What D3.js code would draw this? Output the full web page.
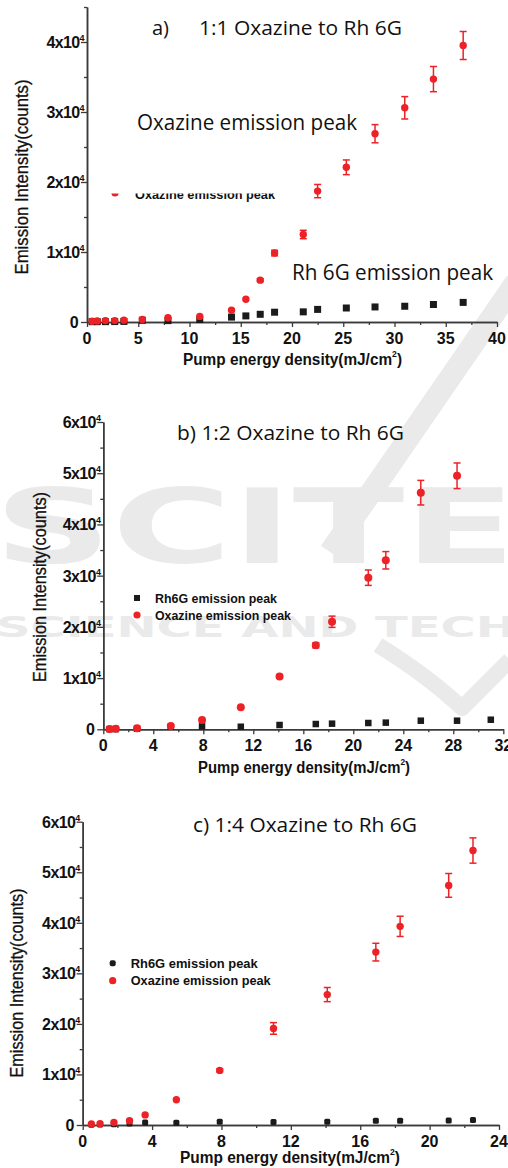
<!DOCTYPE html>
<html><head><meta charset="utf-8">
<script src="https://cdn.jsdelivr.net/npm/d3@7"></script>
<style>body{margin:0;background:#fff}svg{display:block}</style>
</head><body>
<svg id="c" width="508" height="1168"></svg>
<script>
// ---------- data ----------
const xA   = [0.5,1,1.8,2.7,3.6,5.4,7.9,11,14.1,15.5,16.9,18.3,21.1,22.5,25.3,28.1,31,33.8,36.7];
const oxA  = [100,150,200,200,250,350,600,800,1670,3250,5980,9850,12500,18700,22100,26900,30600,34700,39500];
const oxErrA = [0,0,0,0,0,0,0,0,0,0,200,400,600,950,1050,1300,1600,1800,2000];
const rhA  = [50,50,50,60,80,250,200,350,700,870,1100,1400,1450,1800,2000,2150,2250,2500,2800];

const xB   = [0.5,1,2.7,5.4,7.9,11,14.1,17,18.3,21.2,22.6,25.4,28.3,31];
const oxB  = [60,130,200,650,1800,4300,10300,16400,21000,29600,33000,46200,49500,null];
const oxErrB = [0,0,0,0,0,0,300,500,1100,1500,1700,2400,2500,0];
const rhB  = [30,50,100,500,580,500,840,1030,1100,1230,1300,1680,1680,1870];

const xC   = [0.5,1,1.8,2.7,3.6,5.4,7.9,11,14.1,16.9,18.3,21.1,22.5];
const oxC  = [200,250,500,850,2000,5000,10800,19100,25800,34200,39300,47400,54300];
const oxErrC = [0,0,0,0,0,0,300,1150,1400,1750,2000,2350,2500];
const rhC  = [50,80,150,300,500,450,650,600,650,850,850,900,1000];

const yTicksA = [0,1e4,2e4,3e4,4e4];
const yTicksBC = [0,1e4,2e4,3e4,4e4,5e4,6e4];
const xTicksA = [0,5,10,15,20,25,30,35,40];
const xTicksB = [0,4,8,12,16,20,24,28,32];
const xTicksC = [0,4,8,12,16,20,24];

const titleA = ["a)", "1:1 Oxazine to Rh 6G"];
const titleB = "b) 1:2 Oxazine to Rh 6G";
const titleC = "c) 1:4 Oxazine to Rh 6G";
const xTitle = "Pump energy density(mJ/cm";
const yTitle = "Emission Intensity(counts)";
const legRh = "Rh6G emission peak";
const legOx = "Oxazine emission peak";
const annOx = "Oxazine emission peak";
const annRh = "Rh 6G emission peak";

const RED = "#ec2227", BLK = "#1b1b1b", AX = "#3a3a3a", WM = "#eaeaea";

const svg = d3.select("#c");

// ---------- watermark ----------
const wm = svg.append("g");
wm.append("text").attr("x",-6).attr("y",563).attr("font-family","DejaVu Sans").attr("font-weight","bold")
  .attr("font-size",104).attr("fill",WM).attr("textLength",522).attr("lengthAdjust","spacingAndGlyphs").text("SCITE");
wm.append("text").attr("x",-4).attr("y",637).attr("font-family","DejaVu Sans").attr("font-weight","bold")
  .attr("font-size",28).attr("fill",WM).attr("textLength",520).attr("lengthAdjust","spacingAndGlyphs").text("SCIENCE AND TECH");
wm.append("path").attr("d","M516,282 L330,552").attr("stroke",WM).attr("stroke-width",22).attr("fill","none");
wm.append("path").attr("d","M378,645 Q428,676 462,708 L510,660").attr("stroke",WM).attr("stroke-width",16).attr("fill","none").attr("stroke-linejoin","round");

// ---------- panel drawing ----------
function panel(o){
  const g = svg.append("g");
  const x = d3.scaleLinear().domain(o.xd).range(o.xr);
  const y = d3.scaleLinear().domain(o.yd).range(o.yr);
  const ax = (a)=>a.call(s=>{s.select(".domain").attr("stroke",AX).attr("stroke-width",1.5);
                             s.selectAll(".tick line").attr("stroke",AX).attr("stroke-width",1.3);});
  g.append("g").attr("transform",`translate(0,${o.yr[0]})`)
    .call(d3.axisBottom(x).tickValues(o.xMinor).tickSize(3).tickSizeOuter(0).tickFormat("")).call(ax);
  g.append("g").attr("transform",`translate(${o.xr[0]},0)`)
    .call(d3.axisLeft(y).tickValues(o.yMinor).tickSize(3).tickSizeOuter(0).tickFormat("")).call(ax);
  g.append("g").attr("transform",`translate(0,${o.yr[0]})`)
    .call(d3.axisBottom(x).tickValues(o.xTicks).tickSize(5).tickSizeOuter(0).tickFormat("")).call(ax);
  g.append("g").attr("transform",`translate(${o.xr[0]},0)`)
    .call(d3.axisLeft(y).tickValues(o.yTicks).tickSize(6).tickSizeOuter(0).tickFormat("")).call(ax);
  g.selectAll(".xl").data(o.xTicks).join("text")
    .attr("x",d=>x(d)).attr("y",o.yr[0]+22).attr("text-anchor","middle")
    .attr("font-family","Liberation Sans").attr("font-weight","bold").attr("font-size",16).attr("fill","#111")
    .text(d=>d);
  const yl = g.selectAll(".yl").data(o.yTicks).join("text")
    .attr("x",o.xr[0]-3).attr("y",d=>y(d)+6).attr("text-anchor","end")
    .attr("font-family","Liberation Sans").attr("font-weight","bold").attr("font-size",16).attr("fill","#111")
    .attr("letter-spacing",-0.6);
  yl.each(function(d){
    const t = d3.select(this);
    if(d===0){ t.attr("dx",-6).text("0"); return; }
    t.append("tspan").text((d/1e4)+"x10");
    t.append("tspan").attr("font-size",9).attr("dy",-7).text("4");
  });
  const xt = g.append("text").attr("x",o.xtx).attr("y",o.xty).attr("font-family","Liberation Sans")
    .attr("font-weight","bold").attr("font-size",16).attr("fill","#111")
    .attr("textLength",o.xtw).attr("lengthAdjust","spacingAndGlyphs");
  xt.append("tspan").text(xTitle);
  xt.append("tspan").attr("font-size",9).attr("dy",-8).text("2");
  xt.append("tspan").attr("dy",8).text(")");
  g.append("text").attr("transform",`translate(${o.ytx},${o.yty}) rotate(-90)`).attr("text-anchor","middle")
    .attr("font-family","Liberation Sans").attr("font-size",18).attr("fill","#111")
    .attr("stroke","#111").attr("stroke-width",0.3)
    .attr("textLength",o.ytw).attr("lengthAdjust","spacingAndGlyphs").text(yTitle);
  const rh = o.xs.map((v,i)=>({x:v,y:o.rh[i]})).filter(d=>d.y!=null);
  const ox = o.xs.map((v,i)=>({x:v,y:o.ox[i],e:o.err[i]})).filter(d=>d.y!=null);
  g.selectAll(".rh").data(rh).join("rect")
    .attr("x",d=>x(d.x)-o.sq/2).attr("y",d=>y(d.y)-o.sq/2).attr("width",o.sq).attr("height",o.sq)
    .attr("rx",o.sqr||0).attr("fill",BLK);
  const eb = ox.filter(d=>d.e>0);
  g.selectAll(".ev").data(eb).join("line").attr("x1",d=>x(d.x)).attr("x2",d=>x(d.x))
    .attr("y1",d=>y(d.y+d.e)).attr("y2",d=>y(d.y-d.e)).attr("stroke",RED).attr("stroke-width",1.5);
  ["+","-"].forEach(s=>{
    g.selectAll(".ec"+(s==="+"?"p":"m")).data(eb).join("line")
      .attr("x1",d=>x(d.x)-3.5).attr("x2",d=>x(d.x)+3.5)
      .attr("y1",d=>y(s==="+"?d.y+d.e:d.y-d.e)).attr("y2",d=>y(s==="+"?d.y+d.e:d.y-d.e))
      .attr("stroke",RED).attr("stroke-width",1.5);
  });
  g.selectAll(".ox").data(ox).join("circle")
    .attr("cx",d=>x(d.x)).attr("cy",d=>y(d.y)).attr("r",o.r).attr("fill",RED);
  return g;
}

panel({xd:[0,40],xr:[87,497],yd:[0,45000],yr:[322,7],
  xTicks:xTicksA,xMinor:d3.range(2.5,40,5),yTicks:yTicksA,yMinor:d3.range(5000,45001,10000),
  xs:xA,ox:oxA,err:oxErrA,rh:rhA,sq:7,r:3.7,
  xtx:183,xty:365,xtw:219,ytx:28,yty:177,ytw:195});
panel({xd:[0,32],xr:[103.3,503.3],yd:[0,60000],yr:[729.3,422],
  xTicks:xTicksB,xMinor:d3.range(2,32,4),yTicks:yTicksBC,yMinor:d3.range(5000,60000,10000),
  xs:xB,ox:oxB,err:oxErrB,rh:rhB,sq:6.5,r:4,
  xtx:198,xty:773,xtw:212,ytx:46,yty:587,ytw:190});
panel({xd:[0,24],xr:[82.7,499],yd:[0,60000],yr:[1125,821.7],
  xTicks:xTicksC,xMinor:d3.range(2,24,4),yTicks:yTicksBC,yMinor:d3.range(5000,60000,10000),
  xs:xC,ox:oxC,err:oxErrC,rh:rhC,sq:6,sqr:1.5,r:3.7,
  xtx:180,xty:1163,xtw:220,ytx:23,yty:983,ytw:189});

// ---------- titles & annotations ----------
const tf = (sel)=>sel.attr("font-family","Open Sans").attr("fill","#111").attr("lengthAdjust","spacingAndGlyphs");
tf(svg.append("text").attr("x",152).attr("y",35).attr("font-size",20)).text(titleA[0]);
tf(svg.append("text").attr("x",199).attr("y",35).attr("font-size",20).attr("textLength",203)).text(titleA[1]);
tf(svg.append("text").attr("x",177).attr("y",440).attr("font-size",20).attr("textLength",227)).text(titleB);
tf(svg.append("text").attr("x",193).attr("y",832).attr("font-size",20).attr("textLength",224)).text(titleC);
tf(svg.append("text").attr("x",137).attr("y",130).attr("font-size",21).attr("textLength",220)).text(annOx);
tf(svg.append("text").attr("x",292).attr("y",280).attr("font-size",21).attr("textLength",201)).text(annRh);

// ---------- legends ----------
function legend(x0,y1,y2,w1,w2,sq,sqr){
  const g = svg.append("g");
  g.append("rect").attr("x",x0-sq/2).attr("y",y1-sq/2).attr("width",sq).attr("height",sq).attr("rx",sqr||0).attr("fill",BLK);
  g.append("circle").attr("cx",x0).attr("cy",y2).attr("r",3.6).attr("fill",RED);
  [[y1,w1,legRh],[y2,w2,legOx]].forEach(([yy,w,t])=>{
    g.append("text").attr("x",x0+18).attr("y",yy+4.5).attr("font-family","Liberation Sans").attr("font-weight","bold")
      .attr("font-size",13).attr("fill","#111").attr("textLength",w).attr("lengthAdjust","spacingAndGlyphs").text(t);
  });
  return g;
}
legend(137,598,615,122,136,6);
legend(112.7,963.3,980.7,127,140,6,2);
// partially hidden legend in panel a (only its lower half is visible in the source)
svg.append("defs").append("clipPath").attr("id","clipA").append("rect").attr("x",100).attr("y",193.5).attr("width",200).attr("height",12);
const la = svg.append("g").attr("clip-path","url(#clipA)");
la.append("circle").attr("cx",115).attr("cy",193).attr("r",3.6).attr("fill",RED);
la.append("text").attr("x",135).attr("y",199).attr("font-family","Liberation Sans").attr("font-weight","bold")
  .attr("font-size",13).attr("fill","#111").attr("textLength",140).attr("lengthAdjust","spacingAndGlyphs").text(legOx);
</script>
</body></html>
